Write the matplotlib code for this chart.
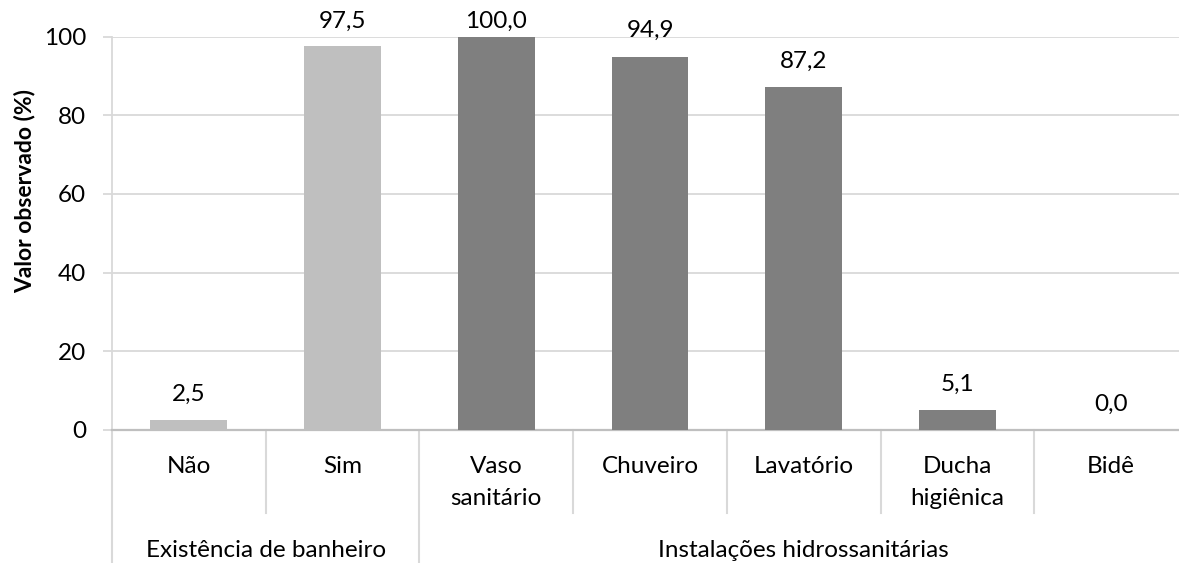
import matplotlib.pyplot as plt
import matplotlib.transforms as mtransforms

categories = ["Não", "Sim", "Vaso\nsanitário", "Chuveiro", "Lavatório",
              "Ducha\nhigiênica", "Bidê"]
values = [2.5, 97.5, 100.0, 94.9, 87.2, 5.1, 0.0]
groups = ["Existência de banheiro", "Instalações hidrossanitárias"]
group_sizes = [2, 5]
group_colors = ["#BFBFBF", "#7F7F7F"]
yticks = [0, 20, 40, 60, 80, 100]

plt.rcParams['font.family'] = ['Lato', 'DejaVu Sans']
FS = 17.5

W, H = 1179, 563
# plot area in pixels (Excel style, right end is cut off by the image)
X0, X1, Y0, Y1 = 112, 1188, 430, 36.5
fig = plt.figure(figsize=(W / 100, H / 100), dpi=100)
ax = fig.add_axes([X0 / W, (H - Y0) / H, (X1 - X0) / W, (Y0 - Y1) / H])


def ay(py):
    # pixel row -> axes fraction
    return (Y0 - py) / (Y0 - Y1)


colors = []
for c, n in zip(group_colors, group_sizes):
    colors += [c] * n

x = list(range(len(categories)))
ax.bar(x, values, width=0.5, color=colors, zorder=3)
ax.set_xlim(-0.5, len(categories) - 0.5)
ax.set_ylim(0, 100)

trans = mtransforms.blended_transform_factory(ax.transData, ax.transAxes)

# data labels, kept inside the chart area like excel does
for xi, v in zip(x, values):
    top_px = Y0 - v / 100 * (Y0 - Y1)
    base_px = max(top_px - 19.5, 27.5)
    ax.text(xi, ay(base_px), f"{v:.1f}".replace(".", ","), transform=trans,
            ha="center", va="baseline", fontsize=FS, color="#000000",
            clip_on=False)

ax.set_yticks(yticks)
ax.set_yticklabels([str(t) for t in yticks], fontsize=FS)
ax.yaxis.grid(True, color="#D9D9D9", linewidth=1.3, zorder=0)
ax.tick_params(axis="y", length=6.5, color="#D9D9D9", width=1.3, pad=12)
ax.set_xticks([])

for s in ["top", "right"]:
    ax.spines[s].set_visible(False)
ax.spines["left"].set_color("#D9D9D9")
ax.spines["left"].set_linewidth(1.3)
ax.spines["bottom"].set_color("#BFBFBF")
ax.spines["bottom"].set_linewidth(1.6)

ax.set_ylabel("Valor observado (%)", fontsize=16.5, fontweight="bold")
ax.yaxis.set_label_coords((35 - X0) / (X1 - X0), ay(191))

# category labels, one text per line
for xi, lab in zip(x, categories):
    for k, line in enumerate(lab.split("\n")):
        ax.text(xi, ay(473 + 32 * k), line, transform=trans, ha="center",
                va="baseline", fontsize=FS)

# separators between categories (short) and between groups (long)
group_edges = []
acc = 0
for n in group_sizes:
    acc += n
    group_edges.append(acc - 0.5)
for b in range(len(categories)):
    xb = b + 0.5
    if xb in group_edges:
        continue
    ax.plot([xb, xb], [0, ay(513)], transform=trans, color="#D9D9D9",
            linewidth=1.5, clip_on=False)
for xb in [-0.5] + group_edges[:-1]:
    ax.plot([xb, xb], [0, ay(H + 5)], transform=trans, color="#D9D9D9",
            linewidth=1.5, clip_on=False)

# group labels
start = 0
for g, n in zip(groups, group_sizes):
    ax.text(start + (n - 1) / 2, ay(557), g, transform=trans,
            ha="center", va="baseline", fontsize=FS)
    start += n

fig.savefig("out.png", dpi=100)
